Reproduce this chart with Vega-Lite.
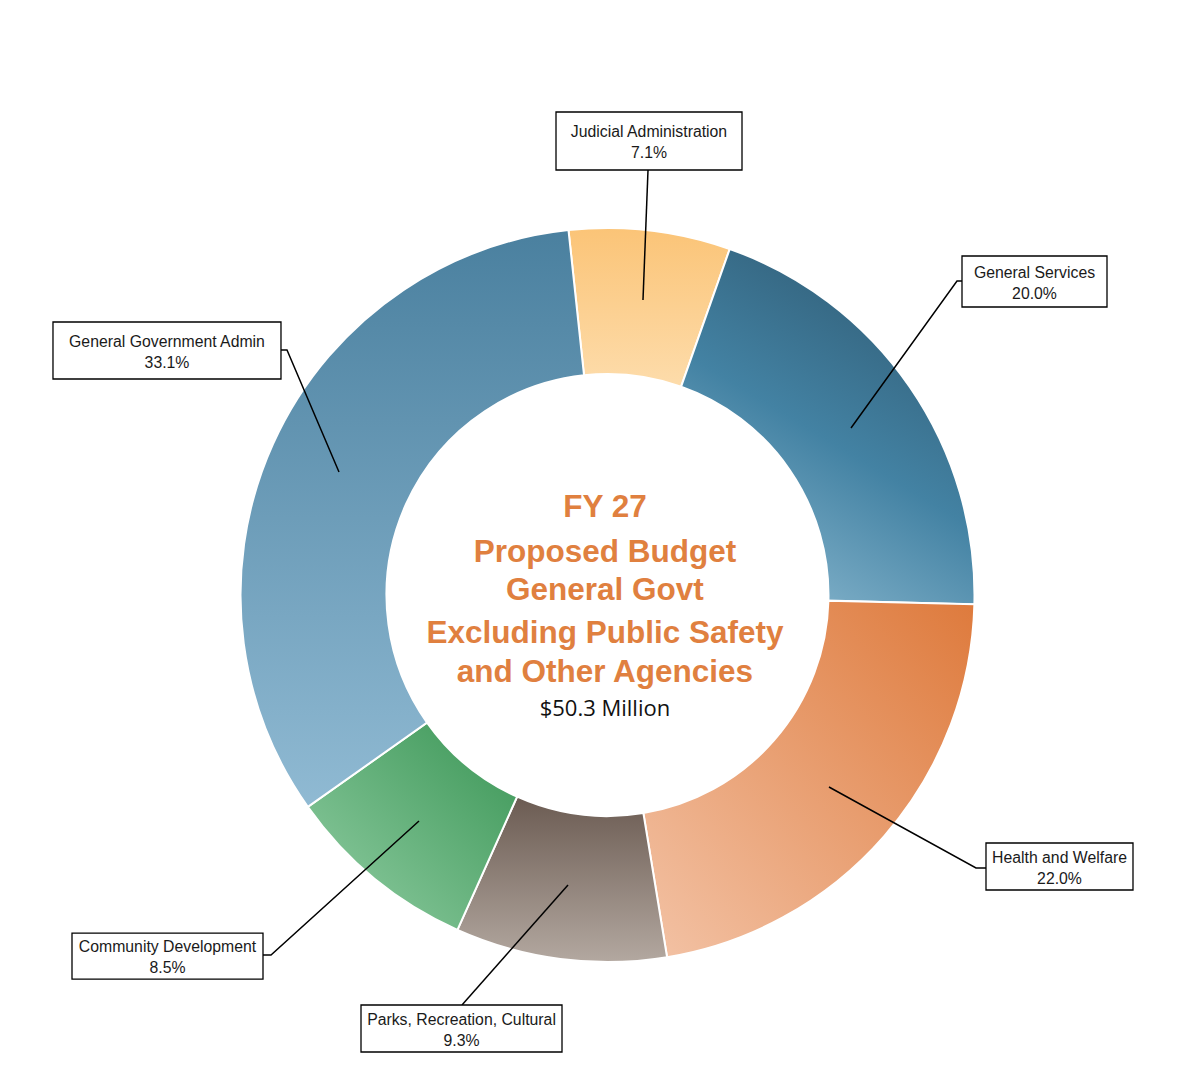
{
  "$schema": "https://vega.github.io/schema/vega-lite/v6.json",
  "width": 1194,
  "height": 1088,
  "padding": 0,
  "autosize": {"type": "none"},
  "background": "white",
  "config": {"view": {"stroke": null}},
  "datasets": {
    "slices": [
      {"cat": "Judicial Administration", "share": 0.071, "ord": 1},
      {"cat": "General Services", "share": 0.200, "ord": 2},
      {"cat": "Health and Welfare", "share": 0.220, "ord": 3},
      {"cat": "Parks, Recreation, Cultural", "share": 0.093, "ord": 4},
      {"cat": "Community Development", "share": 0.085, "ord": 5},
      {"cat": "General Government Admin", "share": 0.331, "ord": 6}
    ],
    "labels": [
      {"cat": "Judicial Administration", "share": 0.071, "u": 0.1131, "v": 1.2371},
      {"cat": "General Services", "share": 0.200, "u": 1.1635, "v": 0.8542},
      {"cat": "Health and Welfare", "share": 0.220, "u": 1.2316, "v": -0.7398},
      {"cat": "Parks, Recreation, Cultural", "share": 0.093, "u": -0.3978, "v": -1.1812},
      {"cat": "Community Development", "share": 0.085, "u": -1.1989, "v": -0.9837},
      {"cat": "General Government Admin", "share": 0.331, "u": -1.2003, "v": 0.6662}
    ],
    "leaders": [
      {"cat": "Judicial Administration", "seq": 0, "u": 0.0967, "v": 0.8038},
      {"cat": "Judicial Administration", "seq": 1, "u": 0.1104, "v": 1.1580},
      {"cat": "General Services", "seq": 0, "u": 0.6635, "v": 0.4550},
      {"cat": "General Services", "seq": 1, "u": 0.9523, "v": 0.8556},
      {"cat": "General Services", "seq": 2, "u": 0.9659, "v": 0.8556},
      {"cat": "General Government Admin", "seq": 0, "u": -0.7316, "v": 0.3351},
      {"cat": "General Government Admin", "seq": 1, "u": -0.8733, "v": 0.6676},
      {"cat": "General Government Admin", "seq": 2, "u": -0.8896, "v": 0.6676},
      {"cat": "Health and Welfare", "seq": 0, "u": 0.6035, "v": -0.5232},
      {"cat": "Health and Welfare", "seq": 1, "u": 1.0041, "v": -0.7439},
      {"cat": "Health and Welfare", "seq": 2, "u": 1.0313, "v": -0.7439},
      {"cat": "Community Development", "seq": 0, "u": -0.5136, "v": -0.6158},
      {"cat": "Community Development", "seq": 1, "u": -0.9169, "v": -0.9809},
      {"cat": "Community Development", "seq": 2, "u": -0.9387, "v": -0.9809},
      {"cat": "Parks, Recreation, Cultural", "seq": 0, "u": -0.1076, "v": -0.7902},
      {"cat": "Parks, Recreation, Cultural", "seq": 1, "u": -0.3965, "v": -1.1172}
    ],
    "title": [
      {"t": "FY 27", "u": -0.007, "v": 0.2125},
      {"t": "Proposed Budget", "u": -0.007, "v": 0.0899},
      {"t": "General Govt", "u": -0.007, "v": -0.0136},
      {"t": "Excluding Public Safety", "u": -0.007, "v": -0.1308},
      {"t": "and Other Agencies", "u": -0.007, "v": -0.2371}
    ],
    "total": [
      {"t": "$50.3 Million", "u": -0.007, "v": -0.3297}
    ]
  },
  "layer": [
    {
      "data": {"name": "slices"},
      "mark": {"type": "arc", "outerRadius": 367, "innerRadius": 221, "stroke": "white", "strokeWidth": 2},
      "encoding": {
        "x": {"datum": 0, "type": "quantitative", "scale": {"domain": [-1.6553, 1.5981], "nice": false, "zero": false}, "axis": null},
        "y": {"datum": 0, "type": "quantitative", "scale": {"domain": [-1.3433, 1.6213], "nice": false, "zero": false}, "axis": null},
        "theta": {"field": "share", "type": "quantitative", "stack": true, "scale": {"range": [-0.1065, 6.1767]}},
        "order": {"field": "ord", "type": "quantitative"},
        "fill": {
          "condition": [
            {"test": "datum.cat === 'Judicial Administration'", "value": {"gradient": "linear", "x1": 0, "y1": 0, "x2": 0, "y2": 1, "stops": [{"offset": 0, "color": "#fbc477"}, {"offset": 1, "color": "#fddcab"}]}},
            {"test": "datum.cat === 'General Services'", "value": {"gradient": "linear", "x1": 0.8, "y1": 0, "x2": 0.3, "y2": 1, "stops": [{"offset": 0, "color": "#2e5870"}, {"offset": 0.55, "color": "#4382a3"}, {"offset": 1, "color": "#85b4cc"}]}},
            {"test": "datum.cat === 'Health and Welfare'", "value": {"gradient": "linear", "x1": 1, "y1": 0, "x2": 0, "y2": 1, "stops": [{"offset": 0, "color": "#de7a3c"}, {"offset": 1, "color": "#f3c3a6"}]}},
            {"test": "datum.cat === 'Parks, Recreation, Cultural'", "value": {"gradient": "linear", "x1": 0, "y1": 0, "x2": 0, "y2": 1, "stops": [{"offset": 0, "color": "#6b5b52"}, {"offset": 1, "color": "#b3a8a0"}]}},
            {"test": "datum.cat === 'Community Development'", "value": {"gradient": "linear", "x1": 1, "y1": 0, "x2": 0, "y2": 1, "stops": [{"offset": 0, "color": "#3a9555"}, {"offset": 1, "color": "#93cfa5"}]}}
          ],
          "value": {"gradient": "linear", "x1": 0, "y1": 0, "x2": 0, "y2": 1, "stops": [{"offset": 0, "color": "#4a809f"}, {"offset": 1, "color": "#90bad3"}]}
        }
      }
    },
    {
      "data": {"name": "leaders"},
      "mark": {"type": "line", "stroke": "black", "strokeWidth": 1.5},
      "encoding": {
        "x": {"field": "u", "type": "quantitative", "scale": {"domain": [-1.6553, 1.5981], "nice": false, "zero": false}, "axis": null},
        "y": {"field": "v", "type": "quantitative", "scale": {"domain": [-1.3433, 1.6213], "nice": false, "zero": false}, "axis": null},
        "detail": {"field": "cat", "type": "nominal"},
        "order": {"field": "seq", "type": "quantitative"}
      }
    },
    {
      "data": {"name": "labels"},
      "mark": {"type": "point", "filled": true, "fill": "white", "stroke": "black", "strokeWidth": 1.3, "size": 40000, "opacity": 1},
      "encoding": {
        "x": {"field": "u", "type": "quantitative", "scale": {"domain": [-1.6553, 1.5981], "nice": false, "zero": false}, "axis": null},
        "y": {"field": "v", "type": "quantitative", "scale": {"domain": [-1.3433, 1.6213], "nice": false, "zero": false}, "axis": null},
        "shape": {
          "field": "cat", "type": "nominal", "legend": null,
          "scale": {
            "domain": ["Judicial Administration", "General Services", "Health and Welfare", "Parks, Recreation, Cultural", "Community Development", "General Government Admin"],
            "range": ["M-0.93,-0.29H0.93V0.29H-0.93Z", "M-0.725,-0.255H0.725V0.255H-0.725Z", "M-0.735,-0.235H0.735V0.235H-0.735Z", "M-1.005,-0.235H1.005V0.235H-1.005Z", "M-0.955,-0.23H0.955V0.23H-0.955Z", "M-1.14,-0.285H1.14V0.285H-1.14Z"]
          }
        }
      }
    },
    {
      "data": {"name": "labels"},
      "mark": {"type": "text", "font": "Liberation Sans", "fontSize": 15.8, "color": "#1a1a1a", "align": "center", "baseline": "middle", "dy": -9},
      "encoding": {
        "x": {"field": "u", "type": "quantitative", "scale": {"domain": [-1.6553, 1.5981], "nice": false, "zero": false}, "axis": null},
        "y": {"field": "v", "type": "quantitative", "scale": {"domain": [-1.3433, 1.6213], "nice": false, "zero": false}, "axis": null},
        "text": {"field": "cat", "type": "nominal"}
      }
    },
    {
      "data": {"name": "labels"},
      "mark": {"type": "text", "font": "Liberation Sans", "fontSize": 15.8, "color": "#1a1a1a", "align": "center", "baseline": "middle", "dy": 12},
      "encoding": {
        "x": {"field": "u", "type": "quantitative", "scale": {"domain": [-1.6553, 1.5981], "nice": false, "zero": false}, "axis": null},
        "y": {"field": "v", "type": "quantitative", "scale": {"domain": [-1.3433, 1.6213], "nice": false, "zero": false}, "axis": null},
        "text": {"field": "share", "type": "quantitative", "format": ".1%"}
      }
    },
    {
      "data": {"name": "title"},
      "mark": {"type": "text", "font": "Liberation Sans", "fontWeight": "bold", "fontSize": 31.5, "color": "#e0803f", "align": "center", "baseline": "alphabetic"},
      "encoding": {
        "x": {"field": "u", "type": "quantitative", "scale": {"domain": [-1.6553, 1.5981], "nice": false, "zero": false}, "axis": null},
        "y": {"field": "v", "type": "quantitative", "scale": {"domain": [-1.3433, 1.6213], "nice": false, "zero": false}, "axis": null},
        "text": {"field": "t", "type": "nominal"}
      }
    },
    {
      "data": {"name": "total"},
      "mark": {"type": "text", "font": "Open Sans", "fontSize": 22, "color": "#111111", "align": "center", "baseline": "alphabetic"},
      "encoding": {
        "x": {"field": "u", "type": "quantitative", "scale": {"domain": [-1.6553, 1.5981], "nice": false, "zero": false}, "axis": null},
        "y": {"field": "v", "type": "quantitative", "scale": {"domain": [-1.3433, 1.6213], "nice": false, "zero": false}, "axis": null},
        "text": {"field": "t", "type": "nominal"}
      }
    }
  ]
}
